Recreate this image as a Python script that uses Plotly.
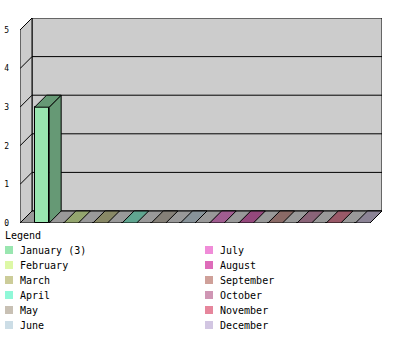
import plotly.graph_objects as go

# ---------------- data ----------------
MONTHS = ["January", "February", "March", "April", "May", "June",
          "July", "August", "September", "October", "November", "December"]
VALUES = [3, 0, 0, 0, 0, 0, 0, 0, 0, 0, 0, 0]
COLORS = ["#99e6b0", "#ddf8a6", "#cccc99", "#90f8d8", "#c8c0b4", "#ccdde6",
          "#f08cd8", "#de6cba", "#cfa099", "#cf96b4", "#e6869c", "#d2c6e2"]
Y_TICKS = [0, 1, 2, 3, 4, 5]
LEGEND_TITLE = "Legend"

# ---------------- geometry (pixels) ----------------
W, H = 400, 350
PL, PR, PT, PB = 20, 382, 18, 223
DEPTH = 12
N = len(MONTHS)
SLOT_PX = (PR - DEPTH - PL) / N
UNIT_PX = (PB - (PT + DEPTH)) / max(Y_TICKS)
DX = DEPTH / SLOT_PX
DY = DEPTH / UNIT_PX
X0 = -0.75
X1 = X0 + (PR - PL) / SLOT_PX
Y1 = (PB - PT) / UNIT_PX
YF = max(Y_TICKS)
HALF = 0.25

FONT = "DejaVu Sans Mono"


def darker(hexc, f=2 / 3):
    r, g, b = (int(hexc[i:i + 2], 16) for i in (1, 3, 5))
    return "#%02x%02x%02x" % (int(r * f), int(g * f), int(b * f))


def px_x(px):
    return (px - PL) / (PR - PL)


def px_y(py):
    return (PB - py) / (PB - PT)


shapes = []
# back wall
shapes.append(dict(type="rect", xref="x", yref="y", x0=X0 + DX, x1=X1, y0=DY, y1=Y1,
                   fillcolor="#cccccc", line=dict(color="black", width=1), layer="below"))
# left wall
shapes.append(dict(type="path", xref="x", yref="y",
                   path=f"M{X0},0 L{X0},{YF} L{X0 + DX},{Y1} L{X0 + DX},{DY} Z",
                   fillcolor="#cccccc", line=dict(color="black", width=1), layer="below"))
# floor
shapes.append(dict(type="path", xref="x", yref="y",
                   path=f"M{X0},0 L{X0 + DX},{DY} L{X1},{DY} L{X1 - DX},0 Z",
                   fillcolor="#999999", line=dict(color="black", width=1), layer="below"))
# grid lines
for v in Y_TICKS[1:-1]:
    shapes.append(dict(type="line", xref="x", yref="y", x0=X0, y0=v, x1=X0 + DX, y1=v + DY,
                       line=dict(color="black", width=1), layer="below"))
    shapes.append(dict(type="line", xref="x", yref="y", x0=X0 + DX, y0=v + DY, x1=X1, y1=v + DY,
                       line=dict(color="black", width=1), layer="below"))

fig = go.Figure()

# 3D bars: top and side faces
for i, (v, c) in enumerate(zip(VALUES, COLORS)):
    dc = darker(c)
    if v > 0:
        fig.add_trace(go.Scatter(
            x=[i + HALF, i + HALF + DX, i + HALF + DX, i + HALF, i + HALF],
            y=[0, DY, v + DY, v, 0], mode="lines", fill="toself",
            fillcolor=dc, line=dict(color="black", width=1), hoverinfo="skip", showlegend=False))
    fig.add_trace(go.Scatter(
        x=[i - HALF, i - HALF + DX, i + HALF + DX, i + HALF, i - HALF],
        y=[v, v + DY, v + DY, v, v], mode="lines", fill="toself",
        fillcolor=dc, line=dict(color="black", width=1), hoverinfo="skip", showlegend=False))

# front faces
fig.add_trace(go.Bar(
    x=list(range(N)), y=VALUES, width=2 * HALF,
    marker=dict(color=COLORS, line=dict(color="black", width=1)),
    showlegend=False, hovertext=MONTHS))

# legend
annotations = [dict(xref="paper", yref="paper", x=px_x(3), y=px_y(235), text=LEGEND_TITLE,
                    showarrow=False, xanchor="left", yanchor="middle",
                    font=dict(family=FONT, size=10, color="black"))]
ROWS = 6
for i, (m, v, c) in enumerate(zip(MONTHS, VALUES, COLORS)):
    col, row = divmod(i, ROWS)
    sx = 5 + 200 * col
    cy = 250 + 15 * row
    shapes.append(dict(type="rect", xref="paper", yref="paper",
                       x0=px_x(sx), x1=px_x(sx + 8), y0=px_y(cy + 4), y1=px_y(cy - 4),
                       fillcolor=c, line=dict(width=0)))
    label = m + (f" ({v})" if v else "")
    annotations.append(dict(xref="paper", yref="paper", x=px_x(sx + 13), y=px_y(cy), text=label,
                            showarrow=False, xanchor="left", yanchor="middle",
                            font=dict(family=FONT, size=10, color="black")))

fig.update_layout(
    width=W, height=H,
    margin=dict(l=PL, r=W - PR, t=PT, b=H - PB, pad=0, autoexpand=False),
    paper_bgcolor="white", plot_bgcolor="white",
    xaxis=dict(range=[X0, X1], visible=False, fixedrange=True, automargin=False),
    yaxis=dict(range=[0, Y1], tickvals=Y_TICKS, ticktext=[str(t) for t in Y_TICKS],
               showgrid=False, zeroline=False, showline=False, ticks="",
               ticklabelstandoff=10, tickfont=dict(family=FONT, size=8, color="black"),
               fixedrange=True, automargin=False),
    shapes=shapes, annotations=annotations,
    bargap=0, showlegend=False,
)

fig.write_html("out.html")
